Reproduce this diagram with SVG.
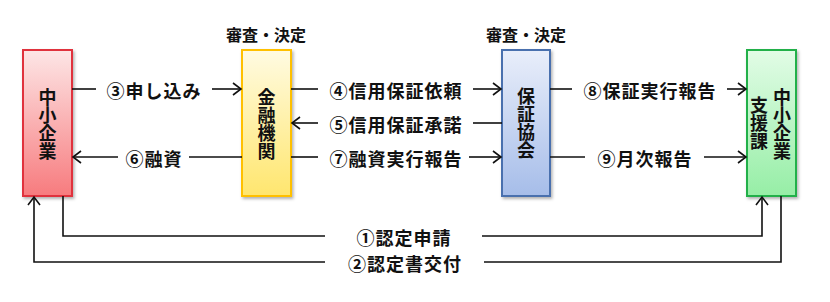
<svg xmlns="http://www.w3.org/2000/svg" width="830" height="302" viewBox="0 0 830 302">
<defs>
<linearGradient id="gRed" x1="0" y1="0" x2="0" y2="1"><stop offset="0" stop-color="#fde6e6"/><stop offset="1" stop-color="#f77b7e"/></linearGradient>
<linearGradient id="gYel" x1="0" y1="0" x2="0" y2="1"><stop offset="0" stop-color="#fffbe2"/><stop offset="1" stop-color="#ffe66e"/></linearGradient>
<linearGradient id="gBlu" x1="0" y1="0" x2="0" y2="1"><stop offset="0" stop-color="#e9eefa"/><stop offset="1" stop-color="#a6bde9"/></linearGradient>
<linearGradient id="gGrn" x1="0" y1="0" x2="0" y2="1"><stop offset="0" stop-color="#e2fce6"/><stop offset="1" stop-color="#96eea6"/></linearGradient>
<filter id="sh" x="-20%" y="-10%" width="150%" height="130%"><feDropShadow dx="1.5" dy="2" stdDeviation="1.5" flood-color="#000" flood-opacity="0.3"/></filter>
<marker id="ah" markerUnits="userSpaceOnUse" markerWidth="12" markerHeight="14" refX="9" refY="7" orient="auto"><path d="M1,1 L9,7 L1,13" fill="none" stroke="#111" stroke-width="1.6"/></marker>
</defs>
<style>
.box{stroke-width:2;filter:url(#sh)}
.bt{font-family:"Noto Sans CJK JP","Noto Sans CJK SC",sans-serif;font-weight:bold;font-size:18px;fill:#111;text-anchor:middle;writing-mode:vertical-rl}
.lb{font-family:"Noto Sans CJK JP","Noto Sans CJK SC",sans-serif;font-weight:bold;font-size:18px;fill:#111;text-anchor:middle;letter-spacing:1px}
.tt{font-family:"Noto Sans CJK JP","Noto Sans CJK SC",sans-serif;font-weight:bold;font-size:16px;fill:#111;text-anchor:middle}
.ln{fill:none;stroke:#111;stroke-width:1.6}
</style>
<rect width="830" height="302" fill="#fff"/>

<g id="node-chusho">
<rect class="box" x="23" y="50" width="49" height="146" fill="url(#gRed)" stroke="#e0323c"/>
<text class="bt" x="47.5" y="124.5">中小企業</text>
</g>

<g id="node-kinyu">
<text class="tt" x="266" y="40.5">審査・決定</text>
<rect class="box" x="242" y="50" width="49" height="146" fill="url(#gYel)" stroke="#ffc000"/>
<text class="bt" x="266.5" y="124">金融機関</text>
</g>

<g id="node-hosho">
<text class="tt" x="526" y="40.5">審査・決定</text>
<rect class="box" x="502" y="50" width="48" height="146" fill="url(#gBlu)" stroke="#4a6fae"/>
<text class="bt" x="526" y="123.5">保証協会</text>
</g>

<g id="node-shienka">
<rect class="box" x="747" y="50" width="49" height="146" fill="url(#gGrn)" stroke="#22b04a"/>
<text class="bt" x="782" y="124.5">中小企業</text>
<text class="bt" x="759" y="123.5">支援課</text>
</g>

<g id="connectors">
<line class="ln" x1="72" y1="89" x2="96" y2="89"/>
<line class="ln" x1="212" y1="89" x2="241" y2="89" marker-end="url(#ah)"/>
<text class="lb" x="154" y="98">③申し込み</text>

<line class="ln" x1="242" y1="157" x2="189" y2="157"/>
<line class="ln" x1="118" y1="157" x2="73" y2="157" marker-end="url(#ah)"/>
<text class="lb" x="154" y="166">⑥融資</text>

<line class="ln" x1="291" y1="89" x2="318" y2="89"/>
<line class="ln" x1="473" y1="89" x2="501" y2="89" marker-end="url(#ah)"/>
<text class="lb" x="396" y="98">④信用保証依頼</text>

<line class="ln" x1="502" y1="123" x2="473" y2="123"/>
<line class="ln" x1="318" y1="123" x2="292" y2="123" marker-end="url(#ah)"/>
<text class="lb" x="396" y="132">⑤信用保証承諾</text>

<line class="ln" x1="291" y1="157" x2="318" y2="157"/>
<line class="ln" x1="469" y1="157" x2="501" y2="157" marker-end="url(#ah)"/>
<text class="lb" x="396" y="166">⑦融資実行報告</text>

<line class="ln" x1="550" y1="89" x2="572" y2="89"/>
<line class="ln" x1="727" y1="89" x2="746" y2="89" marker-end="url(#ah)"/>
<text class="lb" x="650" y="98">⑧保証実行報告</text>

<line class="ln" x1="550" y1="157" x2="585" y2="157"/>
<line class="ln" x1="704" y1="157" x2="746" y2="157" marker-end="url(#ah)"/>
<text class="lb" x="645" y="166">⑨月次報告</text>

<polyline class="ln" points="63,196 63,236 325,236"/>
<polyline class="ln" points="482,236 762,236 762,197" marker-end="url(#ah)"/>
<text class="lb" x="404" y="245">①認定申請</text>

<polyline class="ln" points="781,196 781,262 484,262"/>
<polyline class="ln" points="325,262 34,262 34,197" marker-end="url(#ah)"/>
<text class="lb" x="405" y="271">②認定書交付</text>
</g>
</svg>
